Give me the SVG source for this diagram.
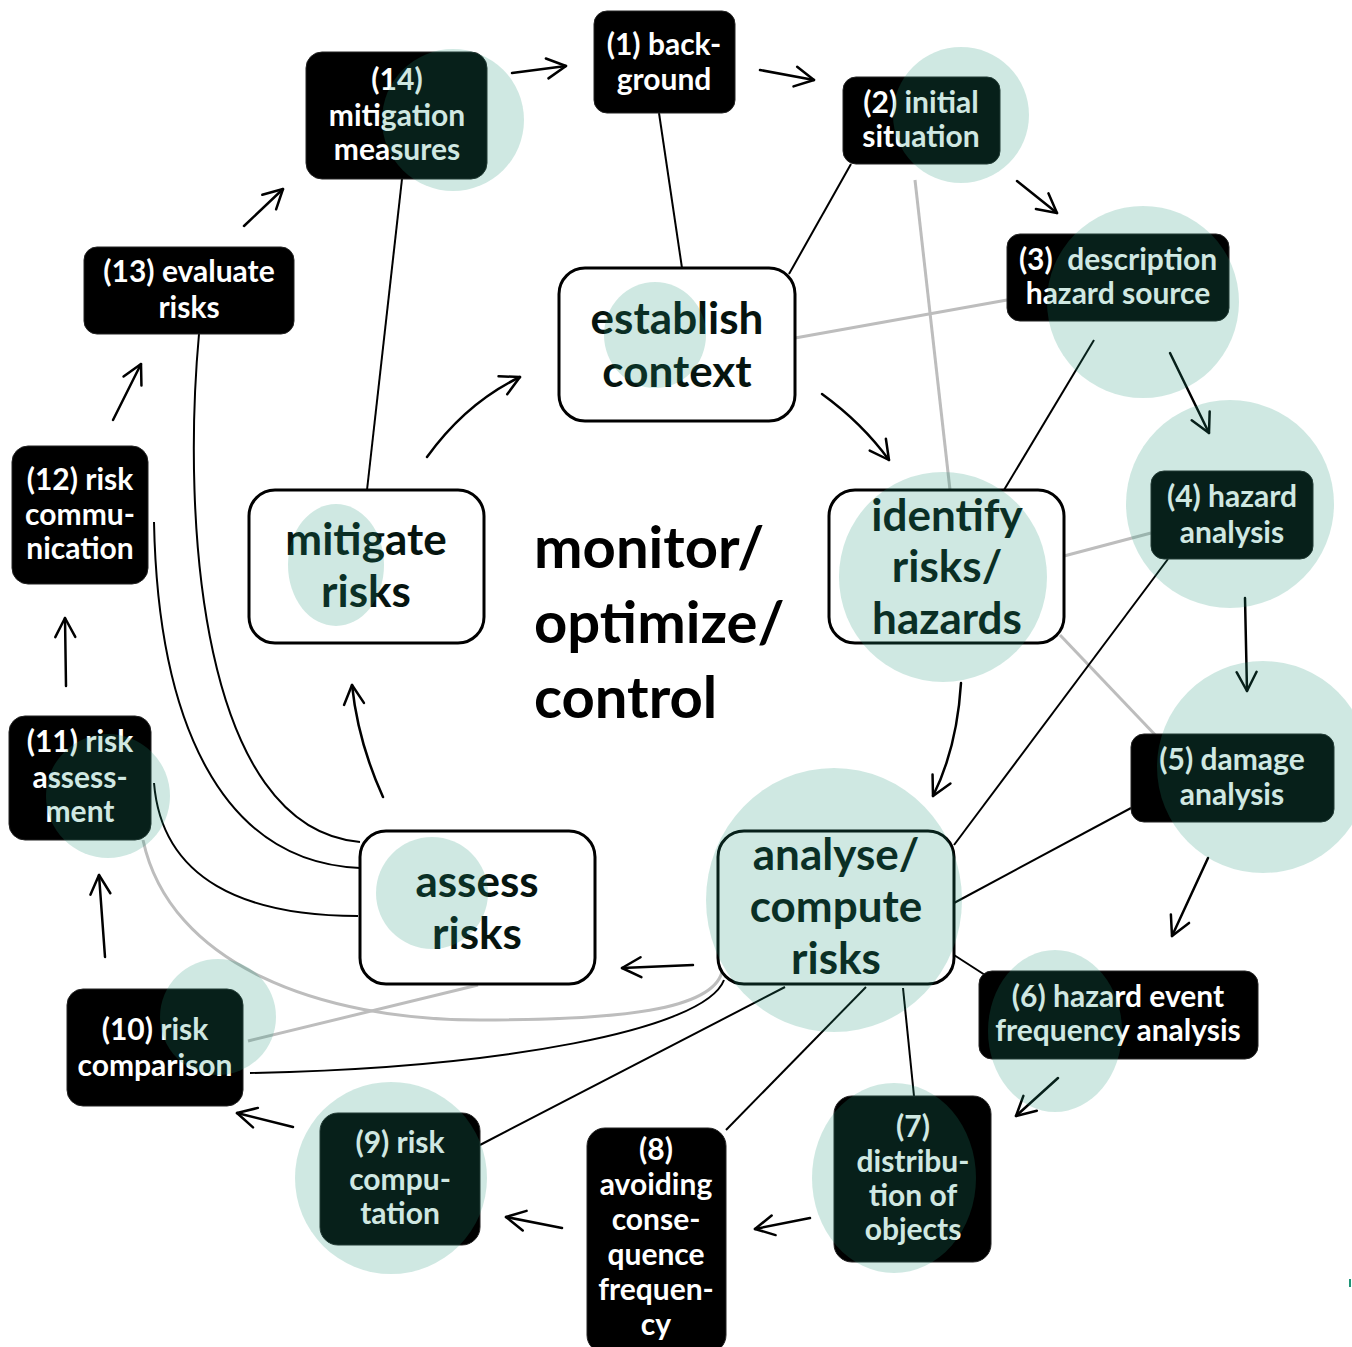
<svg xmlns="http://www.w3.org/2000/svg" width="1352" height="1347" viewBox="0 0 1352 1347">
  <style>
    .step rect { fill: #000; stroke: #222; stroke-width: 1; }
    .step text { fill: #fff; font-family: Lato, "Open Sans", sans-serif; font-weight: 700; font-size: 30px; text-anchor: middle; white-space: pre; }
    .phase rect { fill: #fff; stroke: #000; stroke-width: 3; }
    .phase text { fill: #06140f; font-family: Lato, "Open Sans", sans-serif; font-weight: 700; font-size: 44px; text-anchor: middle; }
    .link { fill: none; stroke: #000; stroke-width: 2; }
    .soft { fill: none; stroke: #bdbdbd; stroke-width: 3; }
    .flow { fill: none; stroke: #000; stroke-width: 2.5; stroke-linecap: round; marker-end: url(#open); }
    .halo { fill: #1f9577; fill-opacity: 0.215; }
    .motto { fill: #000; font-family: Lato, "Open Sans", sans-serif; font-weight: 700; font-size: 58px; }
  </style>
  <defs>
    <marker id="open" viewBox="-22 -12 26 24" markerWidth="26" markerHeight="24" refX="0" refY="0" orient="auto" markerUnits="userSpaceOnUse">
      <path d="M-19,-10 L0,0 L-19,10" fill="none" stroke="#000" stroke-width="2.5" stroke-linecap="round" stroke-linejoin="round"/>
    </marker>
  </defs>
  <rect width="1352" height="1347" fill="#fff"/>

  <!-- spokes and links between steps and phases -->
  <g id="connectors">
    <path class="soft" d="M1007,300 L795,338"/>
    <path class="soft" d="M915,180 L950,490"/>
    <path class="soft" d="M1151,533 L1064,556"/>
    <path class="soft" d="M1060,635 L1160,740"/>
    <path class="soft" d="M248,1041 L478,985"/>
    <path class="soft" d="M143,840 C170,965 320,1020 480,1020 C620,1020 712,1010 722,972"/>

    <path class="link" d="M659,113 L682,268"/>
    <path class="link" d="M851,164 L789,274"/>
    <path class="link" d="M402,179 L367,490"/>
    <path class="link" d="M1094,340 L1004,490"/>
    <path class="link" d="M1168,559 L954,845"/>
    <path class="link" d="M1131,808 L954,903"/>
    <path class="link" d="M954,955 L985,975"/>
    <path class="link" d="M903,988 L914,1096"/>
    <path class="link" d="M866,987 L726,1130"/>
    <path class="link" d="M785,987 L480,1145"/>
    <path class="link" d="M250,1073 C500,1068 705,1030 724,980"/>
    <path class="link" d="M154,522 C158,720 220,862 360,868"/>
    <path class="link" d="M199,334 C182,520 200,828 360,842"/>
    <path class="link" d="M154,783 C162,880 245,916 358,916"/>

    <path class="flow" d="M512,73 L566,66"/>
    <path class="flow" d="M760,70 L814,80"/>
    <path class="flow" d="M1017,181 L1057,213"/>
    <path class="flow" d="M1170,353 L1209,433"/>
    <path class="flow" d="M1245,598 L1247,691"/>
    <path class="flow" d="M1208,858 L1172,936"/>
    <path class="flow" d="M1058,1078 L1016,1116"/>
    <path class="flow" d="M810,1218 L755,1229"/>
    <path class="flow" d="M562,1228 L506,1217"/>
    <path class="flow" d="M293,1127 L237,1113"/>
    <path class="flow" d="M105,957 L99,875"/>
    <path class="flow" d="M66,686 L65,618"/>
    <path class="flow" d="M113,420 L141,364"/>
    <path class="flow" d="M244,226 L283,189"/>
    <path class="flow" d="M822,394 Q862,423 889,460"/>
    <path class="flow" d="M961,683 Q957,748 933,796"/>
    <path class="flow" d="M693,965 L622,968"/>
    <path class="flow" d="M383,797 Q358,742 352,685"/>
    <path class="flow" d="M427,457 Q466,403 520,377"/>
  </g>

  <!-- phases of the cycle -->
  <g id="establish" class="phase">
    <rect x="559" y="268" width="236" height="153" rx="26"/>
    <text x="677" y="334">establish</text>
    <text x="677" y="387">context</text>
  </g>
  <g id="identify" class="phase">
    <rect x="829" y="490" width="235" height="153" rx="26"/>
    <text x="947" y="531">identify</text>
    <text x="947" y="582">risks/</text>
    <text x="947" y="634">hazards</text>
  </g>
  <g id="analyse" class="phase">
    <rect x="718" y="831" width="236" height="153" rx="26"/>
    <text x="836" y="870">analyse/</text>
    <text x="836" y="922">compute</text>
    <text x="836" y="974">risks</text>
  </g>
  <g id="assess" class="phase">
    <rect x="360" y="831" width="235" height="153" rx="26"/>
    <text x="477" y="897">assess</text>
    <text x="477" y="949">risks</text>
  </g>
  <g id="mitigate" class="phase">
    <rect x="249" y="490" width="235" height="153" rx="26"/>
    <text x="366" y="555">mitigate</text>
    <text x="366" y="607">risks</text>
  </g>

  <!-- numbered steps -->
  <g id="step1" class="step">
    <rect x="594" y="11" width="141" height="102" rx="13"/>
    <text x="664" y="55">(1) back-</text>
    <text x="664" y="90">ground</text>
  </g>
  <g id="step2" class="step">
    <rect x="843" y="77" width="157" height="87" rx="13"/>
    <text x="921" y="113">(2) initial</text>
    <text x="921" y="147">situation</text>
  </g>
  <g id="step3" class="step">
    <rect x="1007" y="234" width="222" height="87" rx="13"/>
    <text x="1118" y="270">(3)  description</text>
    <text x="1118" y="304">hazard source</text>
  </g>
  <g id="step4" class="step">
    <rect x="1151" y="471" width="162" height="88" rx="13"/>
    <text x="1232" y="507">(4) hazard</text>
    <text x="1232" y="543">analysis</text>
  </g>
  <g id="step5" class="step">
    <rect x="1131" y="734" width="203" height="88" rx="13"/>
    <text x="1232" y="770">(5) damage</text>
    <text x="1232" y="805">analysis</text>
  </g>
  <g id="step6" class="step">
    <rect x="979" y="971" width="279" height="88" rx="13"/>
    <text x="1118" y="1007">(6) hazard event</text>
    <text x="1118" y="1041">frequency analysis</text>
  </g>
  <g id="step7" class="step">
    <rect x="834" y="1096" width="157" height="166" rx="18"/>
    <text x="913" y="1137">(7)</text>
    <text x="913" y="1172">distribu-</text>
    <text x="913" y="1206">tion of</text>
    <text x="913" y="1240">objects</text>
  </g>
  <g id="step8" class="step">
    <rect x="587" y="1128" width="139" height="225" rx="18"/>
    <text x="656" y="1160">(8)</text>
    <text x="656" y="1195">avoiding</text>
    <text x="656" y="1230">conse-</text>
    <text x="656" y="1265">quence</text>
    <text x="656" y="1300">frequen-</text>
    <text x="656" y="1335">cy</text>
  </g>
  <g id="step9" class="step">
    <rect x="320" y="1113" width="160" height="132" rx="18"/>
    <text x="400" y="1153">(9) risk</text>
    <text x="400" y="1190">compu-</text>
    <text x="400" y="1224">tation</text>
  </g>
  <g id="step10" class="step">
    <rect x="67" y="989" width="176" height="117" rx="16"/>
    <text x="155" y="1040">(10) risk</text>
    <text x="155" y="1076">comparison</text>
  </g>
  <g id="step11" class="step">
    <rect x="9" y="716" width="142" height="124" rx="16"/>
    <text x="80" y="752">(11) risk</text>
    <text x="80" y="788">assess-</text>
    <text x="80" y="822">ment</text>
  </g>
  <g id="step12" class="step">
    <rect x="12" y="446" width="136" height="138" rx="16"/>
    <text x="80" y="490">(12) risk</text>
    <text x="80" y="525">commu-</text>
    <text x="80" y="559">nication</text>
  </g>
  <g id="step13" class="step">
    <rect x="84" y="247" width="210" height="87" rx="13"/>
    <text x="189" y="282">(13) evaluate</text>
    <text x="189" y="318">risks</text>
  </g>
  <g id="step14" class="step">
    <rect x="306" y="52" width="181" height="127" rx="16"/>
    <text x="397" y="90">(14)</text>
    <text x="397" y="126">mitigation</text>
    <text x="397" y="160">measures</text>
  </g>

  <!-- central caption -->
  <g id="motto">
    <text class="motto" x="534" y="568">monitor/</text>
    <text class="motto" x="534" y="643">optimize/</text>
    <text class="motto" x="534" y="718">control</text>
  </g>

  <!-- translucent highlight discs laid over the cycle -->
  <g id="highlights">
    <circle class="halo" cx="453" cy="120" r="71"/>
    <circle class="halo" cx="961" cy="115" r="68"/>
    <circle class="halo" cx="1143" cy="302" r="96"/>
    <circle class="halo" cx="1230" cy="504" r="104"/>
    <circle class="halo" cx="1263" cy="767" r="106"/>
    <ellipse class="halo" cx="1055" cy="1031" rx="67" ry="81"/>
    <ellipse class="halo" cx="894" cy="1178" rx="82" ry="95"/>
    <circle class="halo" cx="391" cy="1178" r="96"/>
    <circle class="halo" cx="218" cy="1017" r="58"/>
    <circle class="halo" cx="108" cy="796" r="62"/>
    <ellipse class="halo" cx="655" cy="335" rx="51" ry="53"/>
    <ellipse class="halo" cx="336" cy="565" rx="48" ry="61"/>
    <ellipse class="halo" cx="943" cy="577" rx="104" ry="105"/>
    <circle class="halo" cx="432" cy="893" r="56"/>
    <ellipse class="halo" cx="834" cy="900" rx="128" ry="132"/>
  </g>
  <path d="M1350,1279 L1350,1287" stroke="#1f9577" stroke-width="2"/>
</svg>
